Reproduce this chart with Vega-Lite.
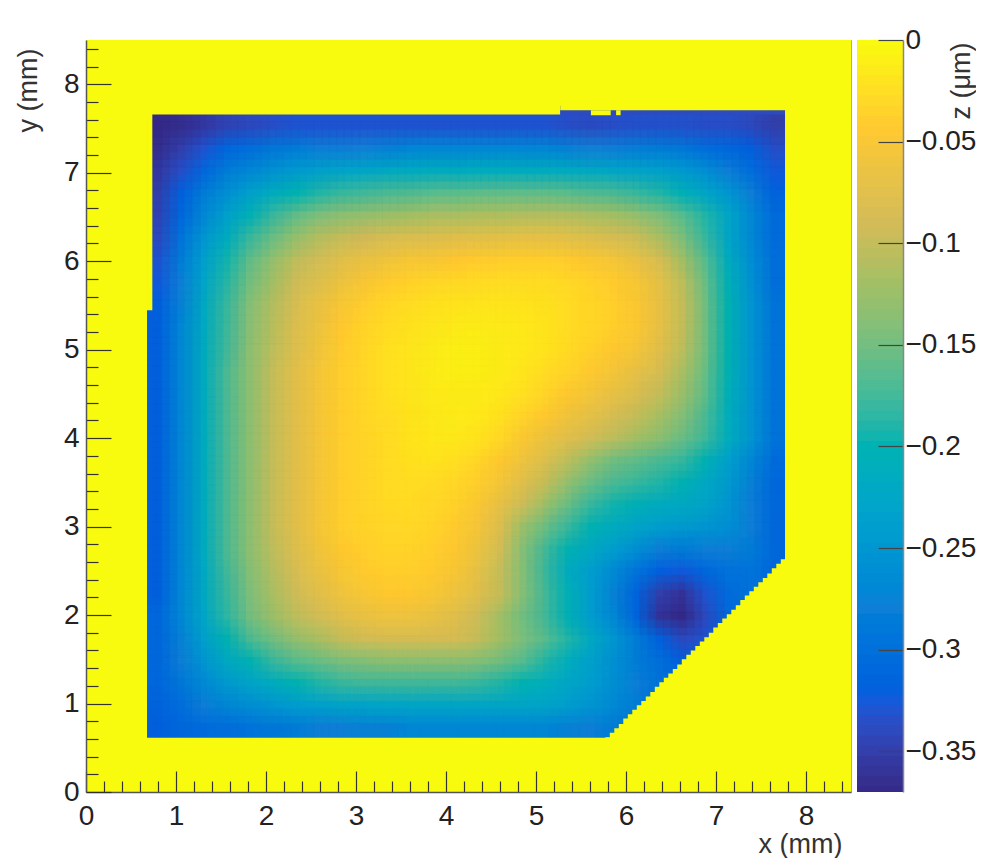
{"$schema":"https://vega.github.io/schema/vega-lite/v6.json","background":"white","padding":{"left":13,"top":26,"right":0,"bottom":0},"spacing":5,"config":{"font":"Liberation Sans","axis":{"labelFont":"Liberation Sans","titleFont":"Liberation Sans","labelColor":"#222","titleColor":"#333","titleFontWeight":"normal","labelFontSize":28,"titleFontSize":27,"grid":false}},"datasets":{"cells":[
{"x":0.8,"y":0.74,"z":-0.32},{"x":1.06,"y":0.74,"z":-0.31},{"x":1.31,"y":0.74,"z":-0.305},{"x":1.56,"y":0.74,"z":-0.3},{"x":1.82,"y":0.74,"z":-0.295},{"x":2.07,"y":0.74,"z":-0.29},{"x":2.32,"y":0.74,"z":-0.285},{"x":2.58,"y":0.74,"z":-0.28},{"x":2.83,"y":0.74,"z":-0.28},{"x":3.08,"y":0.74,"z":-0.275},{"x":3.34,"y":0.74,"z":-0.275},{"x":3.59,"y":0.74,"z":-0.27},{"x":3.84,"y":0.74,"z":-0.27},{"x":4.1,"y":0.74,"z":-0.27},{"x":4.35,"y":0.74,"z":-0.27},{"x":4.6,"y":0.74,"z":-0.27},{"x":4.86,"y":0.74,"z":-0.27},{"x":5.11,"y":0.74,"z":-0.27},{"x":5.36,"y":0.74,"z":-0.275},{"x":5.61,"y":0.74,"z":-0.28},{"x":5.87,"y":0.74,"z":-0.285},{"x":6.12,"y":0.74,"z":-0.295},
{"x":0.8,"y":0.99,"z":-0.315},{"x":1.06,"y":0.99,"z":-0.3},{"x":1.31,"y":0.99,"z":-0.28},{"x":1.56,"y":0.99,"z":-0.27},{"x":1.82,"y":0.99,"z":-0.26},{"x":2.07,"y":0.99,"z":-0.25},{"x":2.32,"y":0.99,"z":-0.24},{"x":2.58,"y":0.99,"z":-0.235},{"x":2.83,"y":0.99,"z":-0.23},{"x":3.08,"y":0.99,"z":-0.23},{"x":3.34,"y":0.99,"z":-0.225},{"x":3.59,"y":0.99,"z":-0.225},{"x":3.84,"y":0.99,"z":-0.225},{"x":4.1,"y":0.99,"z":-0.225},{"x":4.35,"y":0.99,"z":-0.225},{"x":4.6,"y":0.99,"z":-0.225},{"x":4.86,"y":0.99,"z":-0.225},{"x":5.11,"y":0.99,"z":-0.23},{"x":5.36,"y":0.99,"z":-0.24},{"x":5.61,"y":0.99,"z":-0.25},{"x":5.87,"y":0.99,"z":-0.265},{"x":6.12,"y":0.99,"z":-0.285},{"x":6.37,"y":0.99,"z":-0.3},
{"x":0.8,"y":1.24,"z":-0.31},{"x":1.06,"y":1.24,"z":-0.29},{"x":1.31,"y":1.24,"z":-0.265},{"x":1.56,"y":1.24,"z":-0.245},{"x":1.82,"y":1.24,"z":-0.23},{"x":2.07,"y":1.24,"z":-0.215},{"x":2.32,"y":1.24,"z":-0.2},{"x":2.58,"y":1.24,"z":-0.19},{"x":2.83,"y":1.24,"z":-0.18},{"x":3.08,"y":1.24,"z":-0.175},{"x":3.34,"y":1.24,"z":-0.175},{"x":3.59,"y":1.24,"z":-0.175},{"x":3.84,"y":1.24,"z":-0.175},{"x":4.1,"y":1.24,"z":-0.175},{"x":4.35,"y":1.24,"z":-0.18},{"x":4.6,"y":1.24,"z":-0.19},{"x":4.86,"y":1.24,"z":-0.2},{"x":5.11,"y":1.24,"z":-0.21},{"x":5.36,"y":1.24,"z":-0.225},{"x":5.61,"y":1.24,"z":-0.24},{"x":5.87,"y":1.24,"z":-0.26},{"x":6.12,"y":1.24,"z":-0.28},{"x":6.37,"y":1.24,"z":-0.295},{"x":6.63,"y":1.24,"z":-0.31},
{"x":0.8,"y":1.49,"z":-0.31},{"x":1.06,"y":1.49,"z":-0.28},{"x":1.31,"y":1.49,"z":-0.25},{"x":1.56,"y":1.49,"z":-0.22},{"x":1.82,"y":1.49,"z":-0.2},{"x":2.07,"y":1.49,"z":-0.18},{"x":2.32,"y":1.49,"z":-0.165},{"x":2.58,"y":1.49,"z":-0.155},{"x":2.83,"y":1.49,"z":-0.145},{"x":3.08,"y":1.49,"z":-0.14},{"x":3.34,"y":1.49,"z":-0.135},{"x":3.59,"y":1.49,"z":-0.135},{"x":3.84,"y":1.49,"z":-0.135},{"x":4.1,"y":1.49,"z":-0.135},{"x":4.35,"y":1.49,"z":-0.14},{"x":4.6,"y":1.49,"z":-0.15},{"x":4.86,"y":1.49,"z":-0.165},{"x":5.11,"y":1.49,"z":-0.19},{"x":5.36,"y":1.49,"z":-0.21},{"x":5.61,"y":1.49,"z":-0.235},{"x":5.87,"y":1.49,"z":-0.26},{"x":6.12,"y":1.49,"z":-0.285},{"x":6.37,"y":1.49,"z":-0.3},{"x":6.63,"y":1.49,"z":-0.32},{"x":6.88,"y":1.49,"z":-0.32},
{"x":0.8,"y":1.74,"z":-0.31},{"x":1.06,"y":1.74,"z":-0.275},{"x":1.31,"y":1.74,"z":-0.235},{"x":1.56,"y":1.74,"z":-0.2},{"x":1.82,"y":1.74,"z":-0.17},{"x":2.07,"y":1.74,"z":-0.15},{"x":2.32,"y":1.74,"z":-0.13},{"x":2.58,"y":1.74,"z":-0.115},{"x":2.83,"y":1.74,"z":-0.1},{"x":3.08,"y":1.74,"z":-0.09},{"x":3.34,"y":1.74,"z":-0.085},{"x":3.59,"y":1.74,"z":-0.085},{"x":3.84,"y":1.74,"z":-0.085},{"x":4.1,"y":1.74,"z":-0.085},{"x":4.35,"y":1.74,"z":-0.1},{"x":4.6,"y":1.74,"z":-0.12},{"x":4.86,"y":1.74,"z":-0.145},{"x":5.11,"y":1.74,"z":-0.165},{"x":5.36,"y":1.74,"z":-0.19},{"x":5.61,"y":1.74,"z":-0.22},{"x":5.87,"y":1.74,"z":-0.25},{"x":6.12,"y":1.74,"z":-0.285},{"x":6.37,"y":1.74,"z":-0.32},{"x":6.63,"y":1.74,"z":-0.34},{"x":6.88,"y":1.74,"z":-0.33},{"x":7.13,"y":1.74,"z":-0.31},
{"x":0.8,"y":1.99,"z":-0.31},{"x":1.06,"y":1.99,"z":-0.27},{"x":1.31,"y":1.99,"z":-0.225},{"x":1.56,"y":1.99,"z":-0.185},{"x":1.82,"y":1.99,"z":-0.15},{"x":2.07,"y":1.99,"z":-0.125},{"x":2.32,"y":1.99,"z":-0.105},{"x":2.58,"y":1.99,"z":-0.09},{"x":2.83,"y":1.99,"z":-0.075},{"x":3.08,"y":1.99,"z":-0.065},{"x":3.34,"y":1.99,"z":-0.06},{"x":3.59,"y":1.99,"z":-0.06},{"x":3.84,"y":1.99,"z":-0.065},{"x":4.1,"y":1.99,"z":-0.075},{"x":4.35,"y":1.99,"z":-0.095},{"x":4.6,"y":1.99,"z":-0.12},{"x":4.86,"y":1.99,"z":-0.15},{"x":5.11,"y":1.99,"z":-0.175},{"x":5.36,"y":1.99,"z":-0.205},{"x":5.61,"y":1.99,"z":-0.24},{"x":5.87,"y":1.99,"z":-0.27},{"x":6.12,"y":1.99,"z":-0.315},{"x":6.37,"y":1.99,"z":-0.36},{"x":6.63,"y":1.99,"z":-0.375},{"x":6.88,"y":1.99,"z":-0.34},{"x":7.13,"y":1.99,"z":-0.31},{"x":7.39,"y":1.99,"z":-0.3},
{"x":0.8,"y":2.25,"z":-0.32},{"x":1.06,"y":2.25,"z":-0.27},{"x":1.31,"y":2.25,"z":-0.22},{"x":1.56,"y":2.25,"z":-0.18},{"x":1.82,"y":2.25,"z":-0.145},{"x":2.07,"y":2.25,"z":-0.115},{"x":2.32,"y":2.25,"z":-0.095},{"x":2.58,"y":2.25,"z":-0.075},{"x":2.83,"y":2.25,"z":-0.06},{"x":3.08,"y":2.25,"z":-0.05},{"x":3.34,"y":2.25,"z":-0.045},{"x":3.59,"y":2.25,"z":-0.045},{"x":3.84,"y":2.25,"z":-0.05},{"x":4.1,"y":2.25,"z":-0.06},{"x":4.35,"y":2.25,"z":-0.075},{"x":4.6,"y":2.25,"z":-0.1},{"x":4.86,"y":2.25,"z":-0.14},{"x":5.11,"y":2.25,"z":-0.175},{"x":5.36,"y":2.25,"z":-0.205},{"x":5.61,"y":2.25,"z":-0.24},{"x":5.87,"y":2.25,"z":-0.275},{"x":6.12,"y":2.25,"z":-0.315},{"x":6.37,"y":2.25,"z":-0.35},{"x":6.63,"y":2.25,"z":-0.36},{"x":6.88,"y":2.25,"z":-0.33},{"x":7.13,"y":2.25,"z":-0.305},{"x":7.39,"y":2.25,"z":-0.295},{"x":7.64,"y":2.25,"z":-0.31},
{"x":0.8,"y":2.5,"z":-0.32},{"x":1.06,"y":2.5,"z":-0.27},{"x":1.31,"y":2.5,"z":-0.22},{"x":1.56,"y":2.5,"z":-0.175},{"x":1.82,"y":2.5,"z":-0.14},{"x":2.07,"y":2.5,"z":-0.11},{"x":2.32,"y":2.5,"z":-0.085},{"x":2.58,"y":2.5,"z":-0.065},{"x":2.83,"y":2.5,"z":-0.05},{"x":3.08,"y":2.5,"z":-0.042},{"x":3.34,"y":2.5,"z":-0.038},{"x":3.59,"y":2.5,"z":-0.038},{"x":3.84,"y":2.5,"z":-0.042},{"x":4.1,"y":2.5,"z":-0.052},{"x":4.35,"y":2.5,"z":-0.07},{"x":4.6,"y":2.5,"z":-0.1},{"x":4.86,"y":2.5,"z":-0.14},{"x":5.11,"y":2.5,"z":-0.18},{"x":5.36,"y":2.5,"z":-0.215},{"x":5.61,"y":2.5,"z":-0.24},{"x":5.87,"y":2.5,"z":-0.265},{"x":6.12,"y":2.5,"z":-0.295},{"x":6.37,"y":2.5,"z":-0.32},{"x":6.63,"y":2.5,"z":-0.325},{"x":6.88,"y":2.5,"z":-0.31},{"x":7.13,"y":2.5,"z":-0.295},{"x":7.39,"y":2.5,"z":-0.295},{"x":7.64,"y":2.5,"z":-0.31},
{"x":0.8,"y":2.75,"z":-0.32},{"x":1.06,"y":2.75,"z":-0.27},{"x":1.31,"y":2.75,"z":-0.215},{"x":1.56,"y":2.75,"z":-0.17},{"x":1.82,"y":2.75,"z":-0.135},{"x":2.07,"y":2.75,"z":-0.105},{"x":2.32,"y":2.75,"z":-0.08},{"x":2.58,"y":2.75,"z":-0.058},{"x":2.83,"y":2.75,"z":-0.045},{"x":3.08,"y":2.75,"z":-0.038},{"x":3.34,"y":2.75,"z":-0.034},{"x":3.59,"y":2.75,"z":-0.034},{"x":3.84,"y":2.75,"z":-0.038},{"x":4.1,"y":2.75,"z":-0.046},{"x":4.35,"y":2.75,"z":-0.062},{"x":4.6,"y":2.75,"z":-0.09},{"x":4.86,"y":2.75,"z":-0.14},{"x":5.11,"y":2.75,"z":-0.175},{"x":5.36,"y":2.75,"z":-0.2},{"x":5.61,"y":2.75,"z":-0.22},{"x":5.87,"y":2.75,"z":-0.24},{"x":6.12,"y":2.75,"z":-0.26},{"x":6.37,"y":2.75,"z":-0.28},{"x":6.63,"y":2.75,"z":-0.285},{"x":6.88,"y":2.75,"z":-0.28},{"x":7.13,"y":2.75,"z":-0.28},{"x":7.39,"y":2.75,"z":-0.285},{"x":7.64,"y":2.75,"z":-0.31},
{"x":0.8,"y":3.0,"z":-0.32},{"x":1.06,"y":3.0,"z":-0.27},{"x":1.31,"y":3.0,"z":-0.215},{"x":1.56,"y":3.0,"z":-0.17},{"x":1.82,"y":3.0,"z":-0.135},{"x":2.07,"y":3.0,"z":-0.1},{"x":2.32,"y":3.0,"z":-0.075},{"x":2.58,"y":3.0,"z":-0.055},{"x":2.83,"y":3.0,"z":-0.04},{"x":3.08,"y":3.0,"z":-0.035},{"x":3.34,"y":3.0,"z":-0.03},{"x":3.59,"y":3.0,"z":-0.03},{"x":3.84,"y":3.0,"z":-0.034},{"x":4.1,"y":3.0,"z":-0.042},{"x":4.35,"y":3.0,"z":-0.055},{"x":4.6,"y":3.0,"z":-0.08},{"x":4.86,"y":3.0,"z":-0.125},{"x":5.11,"y":3.0,"z":-0.155},{"x":5.36,"y":3.0,"z":-0.18},{"x":5.61,"y":3.0,"z":-0.2},{"x":5.87,"y":3.0,"z":-0.215},{"x":6.12,"y":3.0,"z":-0.23},{"x":6.37,"y":3.0,"z":-0.24},{"x":6.63,"y":3.0,"z":-0.245},{"x":6.88,"y":3.0,"z":-0.25},{"x":7.13,"y":3.0,"z":-0.26},{"x":7.39,"y":3.0,"z":-0.28},{"x":7.64,"y":3.0,"z":-0.31},
{"x":0.8,"y":3.26,"z":-0.32},{"x":1.06,"y":3.26,"z":-0.27},{"x":1.31,"y":3.26,"z":-0.215},{"x":1.56,"y":3.26,"z":-0.17},{"x":1.82,"y":3.26,"z":-0.135},{"x":2.07,"y":3.26,"z":-0.1},{"x":2.32,"y":3.26,"z":-0.075},{"x":2.58,"y":3.26,"z":-0.055},{"x":2.83,"y":3.26,"z":-0.04},{"x":3.08,"y":3.26,"z":-0.033},{"x":3.34,"y":3.26,"z":-0.028},{"x":3.59,"y":3.26,"z":-0.027},{"x":3.84,"y":3.26,"z":-0.03},{"x":4.1,"y":3.26,"z":-0.036},{"x":4.35,"y":3.26,"z":-0.048},{"x":4.6,"y":3.26,"z":-0.068},{"x":4.86,"y":3.26,"z":-0.095},{"x":5.11,"y":3.26,"z":-0.125},{"x":5.36,"y":3.26,"z":-0.155},{"x":5.61,"y":3.26,"z":-0.18},{"x":5.87,"y":3.26,"z":-0.195},{"x":6.12,"y":3.26,"z":-0.205},{"x":6.37,"y":3.26,"z":-0.215},{"x":6.63,"y":3.26,"z":-0.22},{"x":6.88,"y":3.26,"z":-0.23},{"x":7.13,"y":3.26,"z":-0.25},{"x":7.39,"y":3.26,"z":-0.28},{"x":7.64,"y":3.26,"z":-0.31},
{"x":0.8,"y":3.51,"z":-0.32},{"x":1.06,"y":3.51,"z":-0.27},{"x":1.31,"y":3.51,"z":-0.215},{"x":1.56,"y":3.51,"z":-0.17},{"x":1.82,"y":3.51,"z":-0.135},{"x":2.07,"y":3.51,"z":-0.1},{"x":2.32,"y":3.51,"z":-0.075},{"x":2.58,"y":3.51,"z":-0.055},{"x":2.83,"y":3.51,"z":-0.04},{"x":3.08,"y":3.51,"z":-0.033},{"x":3.34,"y":3.51,"z":-0.027},{"x":3.59,"y":3.51,"z":-0.025},{"x":3.84,"y":3.51,"z":-0.027},{"x":4.1,"y":3.51,"z":-0.03},{"x":4.35,"y":3.51,"z":-0.04},{"x":4.6,"y":3.51,"z":-0.055},{"x":4.86,"y":3.51,"z":-0.075},{"x":5.11,"y":3.51,"z":-0.1},{"x":5.36,"y":3.51,"z":-0.13},{"x":5.61,"y":3.51,"z":-0.155},{"x":5.87,"y":3.51,"z":-0.17},{"x":6.12,"y":3.51,"z":-0.18},{"x":6.37,"y":3.51,"z":-0.19},{"x":6.63,"y":3.51,"z":-0.2},{"x":6.88,"y":3.51,"z":-0.22},{"x":7.13,"y":3.51,"z":-0.245},{"x":7.39,"y":3.51,"z":-0.275},{"x":7.64,"y":3.51,"z":-0.31},
{"x":0.8,"y":3.76,"z":-0.32},{"x":1.06,"y":3.76,"z":-0.27},{"x":1.31,"y":3.76,"z":-0.215},{"x":1.56,"y":3.76,"z":-0.17},{"x":1.82,"y":3.76,"z":-0.135},{"x":2.07,"y":3.76,"z":-0.1},{"x":2.32,"y":3.76,"z":-0.075},{"x":2.58,"y":3.76,"z":-0.055},{"x":2.83,"y":3.76,"z":-0.04},{"x":3.08,"y":3.76,"z":-0.033},{"x":3.34,"y":3.76,"z":-0.027},{"x":3.59,"y":3.76,"z":-0.022},{"x":3.84,"y":3.76,"z":-0.02},{"x":4.1,"y":3.76,"z":-0.024},{"x":4.35,"y":3.76,"z":-0.032},{"x":4.6,"y":3.76,"z":-0.045},{"x":4.86,"y":3.76,"z":-0.06},{"x":5.11,"y":3.76,"z":-0.08},{"x":5.36,"y":3.76,"z":-0.105},{"x":5.61,"y":3.76,"z":-0.13},{"x":5.87,"y":3.76,"z":-0.15},{"x":6.12,"y":3.76,"z":-0.16},{"x":6.37,"y":3.76,"z":-0.17},{"x":6.63,"y":3.76,"z":-0.18},{"x":6.88,"y":3.76,"z":-0.2},{"x":7.13,"y":3.76,"z":-0.235},{"x":7.39,"y":3.76,"z":-0.27},{"x":7.64,"y":3.76,"z":-0.305},
{"x":0.8,"y":4.01,"z":-0.32},{"x":1.06,"y":4.01,"z":-0.27},{"x":1.31,"y":4.01,"z":-0.215},{"x":1.56,"y":4.01,"z":-0.17},{"x":1.82,"y":4.01,"z":-0.135},{"x":2.07,"y":4.01,"z":-0.1},{"x":2.32,"y":4.01,"z":-0.075},{"x":2.58,"y":4.01,"z":-0.055},{"x":2.83,"y":4.01,"z":-0.04},{"x":3.08,"y":4.01,"z":-0.033},{"x":3.34,"y":4.01,"z":-0.027},{"x":3.59,"y":4.01,"z":-0.02},{"x":3.84,"y":4.01,"z":-0.016},{"x":4.1,"y":4.01,"z":-0.015},{"x":4.35,"y":4.01,"z":-0.02},{"x":4.6,"y":4.01,"z":-0.03},{"x":4.86,"y":4.01,"z":-0.048},{"x":5.11,"y":4.01,"z":-0.062},{"x":5.36,"y":4.01,"z":-0.075},{"x":5.61,"y":4.01,"z":-0.09},{"x":5.87,"y":4.01,"z":-0.105},{"x":6.12,"y":4.01,"z":-0.12},{"x":6.37,"y":4.01,"z":-0.135},{"x":6.63,"y":4.01,"z":-0.155},{"x":6.88,"y":4.01,"z":-0.175},{"x":7.13,"y":4.01,"z":-0.21},{"x":7.39,"y":4.01,"z":-0.25},{"x":7.64,"y":4.01,"z":-0.295},
{"x":0.8,"y":4.26,"z":-0.32},{"x":1.06,"y":4.26,"z":-0.27},{"x":1.31,"y":4.26,"z":-0.215},{"x":1.56,"y":4.26,"z":-0.17},{"x":1.82,"y":4.26,"z":-0.135},{"x":2.07,"y":4.26,"z":-0.1},{"x":2.32,"y":4.26,"z":-0.075},{"x":2.58,"y":4.26,"z":-0.055},{"x":2.83,"y":4.26,"z":-0.04},{"x":3.08,"y":4.26,"z":-0.032},{"x":3.34,"y":4.26,"z":-0.026},{"x":3.59,"y":4.26,"z":-0.02},{"x":3.84,"y":4.26,"z":-0.015},{"x":4.1,"y":4.26,"z":-0.013},{"x":4.35,"y":4.26,"z":-0.016},{"x":4.6,"y":4.26,"z":-0.022},{"x":4.86,"y":4.26,"z":-0.034},{"x":5.11,"y":4.26,"z":-0.045},{"x":5.36,"y":4.26,"z":-0.058},{"x":5.61,"y":4.26,"z":-0.072},{"x":5.87,"y":4.26,"z":-0.085},{"x":6.12,"y":4.26,"z":-0.1},{"x":6.37,"y":4.26,"z":-0.118},{"x":6.63,"y":4.26,"z":-0.14},{"x":6.88,"y":4.26,"z":-0.17},{"x":7.13,"y":4.26,"z":-0.21},{"x":7.39,"y":4.26,"z":-0.25},{"x":7.64,"y":4.26,"z":-0.295},
{"x":0.8,"y":4.51,"z":-0.32},{"x":1.06,"y":4.51,"z":-0.27},{"x":1.31,"y":4.51,"z":-0.215},{"x":1.56,"y":4.51,"z":-0.17},{"x":1.82,"y":4.51,"z":-0.135},{"x":2.07,"y":4.51,"z":-0.1},{"x":2.32,"y":4.51,"z":-0.075},{"x":2.58,"y":4.51,"z":-0.055},{"x":2.83,"y":4.51,"z":-0.04},{"x":3.08,"y":4.51,"z":-0.032},{"x":3.34,"y":4.51,"z":-0.024},{"x":3.59,"y":4.51,"z":-0.018},{"x":3.84,"y":4.51,"z":-0.014},{"x":4.1,"y":4.51,"z":-0.012},{"x":4.35,"y":4.51,"z":-0.012},{"x":4.6,"y":4.51,"z":-0.016},{"x":4.86,"y":4.51,"z":-0.024},{"x":5.11,"y":4.51,"z":-0.034},{"x":5.36,"y":4.51,"z":-0.045},{"x":5.61,"y":4.51,"z":-0.056},{"x":5.87,"y":4.51,"z":-0.068},{"x":6.12,"y":4.51,"z":-0.082},{"x":6.37,"y":4.51,"z":-0.1},{"x":6.63,"y":4.51,"z":-0.125},{"x":6.88,"y":4.51,"z":-0.16},{"x":7.13,"y":4.51,"z":-0.205},{"x":7.39,"y":4.51,"z":-0.25},{"x":7.64,"y":4.51,"z":-0.295},
{"x":0.8,"y":4.77,"z":-0.32},{"x":1.06,"y":4.77,"z":-0.27},{"x":1.31,"y":4.77,"z":-0.215},{"x":1.56,"y":4.77,"z":-0.17},{"x":1.82,"y":4.77,"z":-0.135},{"x":2.07,"y":4.77,"z":-0.1},{"x":2.32,"y":4.77,"z":-0.075},{"x":2.58,"y":4.77,"z":-0.055},{"x":2.83,"y":4.77,"z":-0.04},{"x":3.08,"y":4.77,"z":-0.031},{"x":3.34,"y":4.77,"z":-0.024},{"x":3.59,"y":4.77,"z":-0.018},{"x":3.84,"y":4.77,"z":-0.012},{"x":4.1,"y":4.77,"z":-0.01},{"x":4.35,"y":4.77,"z":-0.01},{"x":4.6,"y":4.77,"z":-0.012},{"x":4.86,"y":4.77,"z":-0.018},{"x":5.11,"y":4.77,"z":-0.026},{"x":5.36,"y":4.77,"z":-0.034},{"x":5.61,"y":4.77,"z":-0.044},{"x":5.87,"y":4.77,"z":-0.055},{"x":6.12,"y":4.77,"z":-0.068},{"x":6.37,"y":4.77,"z":-0.085},{"x":6.63,"y":4.77,"z":-0.115},{"x":6.88,"y":4.77,"z":-0.155},{"x":7.13,"y":4.77,"z":-0.2},{"x":7.39,"y":4.77,"z":-0.25},{"x":7.64,"y":4.77,"z":-0.295},
{"x":0.8,"y":5.02,"z":-0.32},{"x":1.06,"y":5.02,"z":-0.27},{"x":1.31,"y":5.02,"z":-0.215},{"x":1.56,"y":5.02,"z":-0.175},{"x":1.82,"y":5.02,"z":-0.135},{"x":2.07,"y":5.02,"z":-0.105},{"x":2.32,"y":5.02,"z":-0.078},{"x":2.58,"y":5.02,"z":-0.058},{"x":2.83,"y":5.02,"z":-0.042},{"x":3.08,"y":5.02,"z":-0.032},{"x":3.34,"y":5.02,"z":-0.024},{"x":3.59,"y":5.02,"z":-0.018},{"x":3.84,"y":5.02,"z":-0.014},{"x":4.1,"y":5.02,"z":-0.01},{"x":4.35,"y":5.02,"z":-0.01},{"x":4.6,"y":5.02,"z":-0.012},{"x":4.86,"y":5.02,"z":-0.016},{"x":5.11,"y":5.02,"z":-0.02},{"x":5.36,"y":5.02,"z":-0.028},{"x":5.61,"y":5.02,"z":-0.036},{"x":5.87,"y":5.02,"z":-0.045},{"x":6.12,"y":5.02,"z":-0.055},{"x":6.37,"y":5.02,"z":-0.075},{"x":6.63,"y":5.02,"z":-0.105},{"x":6.88,"y":5.02,"z":-0.15},{"x":7.13,"y":5.02,"z":-0.2},{"x":7.39,"y":5.02,"z":-0.25},{"x":7.64,"y":5.02,"z":-0.295},
{"x":0.8,"y":5.27,"z":-0.32},{"x":1.06,"y":5.27,"z":-0.272},{"x":1.31,"y":5.27,"z":-0.218},{"x":1.56,"y":5.27,"z":-0.178},{"x":1.82,"y":5.27,"z":-0.138},{"x":2.07,"y":5.27,"z":-0.108},{"x":2.32,"y":5.27,"z":-0.082},{"x":2.58,"y":5.27,"z":-0.062},{"x":2.83,"y":5.27,"z":-0.046},{"x":3.08,"y":5.27,"z":-0.035},{"x":3.34,"y":5.27,"z":-0.027},{"x":3.59,"y":5.27,"z":-0.021},{"x":3.84,"y":5.27,"z":-0.017},{"x":4.1,"y":5.27,"z":-0.014},{"x":4.35,"y":5.27,"z":-0.012},{"x":4.6,"y":5.27,"z":-0.014},{"x":4.86,"y":5.27,"z":-0.016},{"x":5.11,"y":5.27,"z":-0.02},{"x":5.36,"y":5.27,"z":-0.026},{"x":5.61,"y":5.27,"z":-0.032},{"x":5.87,"y":5.27,"z":-0.038},{"x":6.12,"y":5.27,"z":-0.048},{"x":6.37,"y":5.27,"z":-0.068},{"x":6.63,"y":5.27,"z":-0.1},{"x":6.88,"y":5.27,"z":-0.15},{"x":7.13,"y":5.27,"z":-0.2},{"x":7.39,"y":5.27,"z":-0.25},{"x":7.64,"y":5.27,"z":-0.295},
{"x":0.8,"y":5.52,"z":-0.32},{"x":1.06,"y":5.52,"z":-0.275},{"x":1.31,"y":5.52,"z":-0.22},{"x":1.56,"y":5.52,"z":-0.18},{"x":1.82,"y":5.52,"z":-0.14},{"x":2.07,"y":5.52,"z":-0.11},{"x":2.32,"y":5.52,"z":-0.085},{"x":2.58,"y":5.52,"z":-0.065},{"x":2.83,"y":5.52,"z":-0.05},{"x":3.08,"y":5.52,"z":-0.04},{"x":3.34,"y":5.52,"z":-0.032},{"x":3.59,"y":5.52,"z":-0.026},{"x":3.84,"y":5.52,"z":-0.022},{"x":4.1,"y":5.52,"z":-0.02},{"x":4.35,"y":5.52,"z":-0.018},{"x":4.6,"y":5.52,"z":-0.018},{"x":4.86,"y":5.52,"z":-0.02},{"x":5.11,"y":5.52,"z":-0.022},{"x":5.36,"y":5.52,"z":-0.026},{"x":5.61,"y":5.52,"z":-0.032},{"x":5.87,"y":5.52,"z":-0.038},{"x":6.12,"y":5.52,"z":-0.048},{"x":6.37,"y":5.52,"z":-0.068},{"x":6.63,"y":5.52,"z":-0.1},{"x":6.88,"y":5.52,"z":-0.15},{"x":7.13,"y":5.52,"z":-0.2},{"x":7.39,"y":5.52,"z":-0.25},{"x":7.64,"y":5.52,"z":-0.295},
{"x":0.8,"y":5.77,"z":-0.325},{"x":1.06,"y":5.77,"z":-0.28},{"x":1.31,"y":5.77,"z":-0.228},{"x":1.56,"y":5.77,"z":-0.188},{"x":1.82,"y":5.77,"z":-0.15},{"x":2.07,"y":5.77,"z":-0.12},{"x":2.32,"y":5.77,"z":-0.095},{"x":2.58,"y":5.77,"z":-0.078},{"x":2.83,"y":5.77,"z":-0.062},{"x":3.08,"y":5.77,"z":-0.05},{"x":3.34,"y":5.77,"z":-0.042},{"x":3.59,"y":5.77,"z":-0.036},{"x":3.84,"y":5.77,"z":-0.032},{"x":4.1,"y":5.77,"z":-0.03},{"x":4.35,"y":5.77,"z":-0.028},{"x":4.6,"y":5.77,"z":-0.026},{"x":4.86,"y":5.77,"z":-0.026},{"x":5.11,"y":5.77,"z":-0.026},{"x":5.36,"y":5.77,"z":-0.03},{"x":5.61,"y":5.77,"z":-0.036},{"x":5.87,"y":5.77,"z":-0.042},{"x":6.12,"y":5.77,"z":-0.052},{"x":6.37,"y":5.77,"z":-0.072},{"x":6.63,"y":5.77,"z":-0.105},{"x":6.88,"y":5.77,"z":-0.155},{"x":7.13,"y":5.77,"z":-0.205},{"x":7.39,"y":5.77,"z":-0.255},{"x":7.64,"y":5.77,"z":-0.3},
{"x":0.8,"y":6.02,"z":-0.33},{"x":1.06,"y":6.02,"z":-0.285},{"x":1.31,"y":6.02,"z":-0.235},{"x":1.56,"y":6.02,"z":-0.195},{"x":1.82,"y":6.02,"z":-0.16},{"x":2.07,"y":6.02,"z":-0.13},{"x":2.32,"y":6.02,"z":-0.105},{"x":2.58,"y":6.02,"z":-0.09},{"x":2.83,"y":6.02,"z":-0.075},{"x":3.08,"y":6.02,"z":-0.065},{"x":3.34,"y":6.02,"z":-0.058},{"x":3.59,"y":6.02,"z":-0.052},{"x":3.84,"y":6.02,"z":-0.05},{"x":4.1,"y":6.02,"z":-0.046},{"x":4.35,"y":6.02,"z":-0.042},{"x":4.6,"y":6.02,"z":-0.04},{"x":4.86,"y":6.02,"z":-0.038},{"x":5.11,"y":6.02,"z":-0.038},{"x":5.36,"y":6.02,"z":-0.042},{"x":5.61,"y":6.02,"z":-0.048},{"x":5.87,"y":6.02,"z":-0.055},{"x":6.12,"y":6.02,"z":-0.066},{"x":6.37,"y":6.02,"z":-0.085},{"x":6.63,"y":6.02,"z":-0.12},{"x":6.88,"y":6.02,"z":-0.165},{"x":7.13,"y":6.02,"z":-0.215},{"x":7.39,"y":6.02,"z":-0.26},{"x":7.64,"y":6.02,"z":-0.3},
{"x":0.8,"y":6.27,"z":-0.34},{"x":1.06,"y":6.27,"z":-0.295},{"x":1.31,"y":6.27,"z":-0.25},{"x":1.56,"y":6.27,"z":-0.215},{"x":1.82,"y":6.27,"z":-0.18},{"x":2.07,"y":6.27,"z":-0.155},{"x":2.32,"y":6.27,"z":-0.13},{"x":2.58,"y":6.27,"z":-0.11},{"x":2.83,"y":6.27,"z":-0.1},{"x":3.08,"y":6.27,"z":-0.092},{"x":3.34,"y":6.27,"z":-0.085},{"x":3.59,"y":6.27,"z":-0.082},{"x":3.84,"y":6.27,"z":-0.08},{"x":4.1,"y":6.27,"z":-0.076},{"x":4.35,"y":6.27,"z":-0.074},{"x":4.6,"y":6.27,"z":-0.072},{"x":4.86,"y":6.27,"z":-0.07},{"x":5.11,"y":6.27,"z":-0.07},{"x":5.36,"y":6.27,"z":-0.074},{"x":5.61,"y":6.27,"z":-0.08},{"x":5.87,"y":6.27,"z":-0.086},{"x":6.12,"y":6.27,"z":-0.096},{"x":6.37,"y":6.27,"z":-0.115},{"x":6.63,"y":6.27,"z":-0.145},{"x":6.88,"y":6.27,"z":-0.18},{"x":7.13,"y":6.27,"z":-0.225},{"x":7.39,"y":6.27,"z":-0.265},{"x":7.64,"y":6.27,"z":-0.305},
{"x":0.8,"y":6.53,"z":-0.345},{"x":1.06,"y":6.53,"z":-0.31},{"x":1.31,"y":6.53,"z":-0.27},{"x":1.56,"y":6.53,"z":-0.235},{"x":1.82,"y":6.53,"z":-0.205},{"x":2.07,"y":6.53,"z":-0.18},{"x":2.32,"y":6.53,"z":-0.16},{"x":2.58,"y":6.53,"z":-0.145},{"x":2.83,"y":6.53,"z":-0.135},{"x":3.08,"y":6.53,"z":-0.13},{"x":3.34,"y":6.53,"z":-0.125},{"x":3.59,"y":6.53,"z":-0.12},{"x":3.84,"y":6.53,"z":-0.115},{"x":4.1,"y":6.53,"z":-0.115},{"x":4.35,"y":6.53,"z":-0.113},{"x":4.6,"y":6.53,"z":-0.112},{"x":4.86,"y":6.53,"z":-0.11},{"x":5.11,"y":6.53,"z":-0.11},{"x":5.36,"y":6.53,"z":-0.11},{"x":5.61,"y":6.53,"z":-0.115},{"x":5.87,"y":6.53,"z":-0.12},{"x":6.12,"y":6.53,"z":-0.13},{"x":6.37,"y":6.53,"z":-0.145},{"x":6.63,"y":6.53,"z":-0.165},{"x":6.88,"y":6.53,"z":-0.19},{"x":7.13,"y":6.53,"z":-0.225},{"x":7.39,"y":6.53,"z":-0.265},{"x":7.64,"y":6.53,"z":-0.305},
{"x":0.8,"y":6.78,"z":-0.35},{"x":1.06,"y":6.78,"z":-0.32},{"x":1.31,"y":6.78,"z":-0.285},{"x":1.56,"y":6.78,"z":-0.26},{"x":1.82,"y":6.78,"z":-0.235},{"x":2.07,"y":6.78,"z":-0.215},{"x":2.32,"y":6.78,"z":-0.2},{"x":2.58,"y":6.78,"z":-0.19},{"x":2.83,"y":6.78,"z":-0.18},{"x":3.08,"y":6.78,"z":-0.175},{"x":3.34,"y":6.78,"z":-0.17},{"x":3.59,"y":6.78,"z":-0.168},{"x":3.84,"y":6.78,"z":-0.165},{"x":4.1,"y":6.78,"z":-0.163},{"x":4.35,"y":6.78,"z":-0.16},{"x":4.6,"y":6.78,"z":-0.16},{"x":4.86,"y":6.78,"z":-0.16},{"x":5.11,"y":6.78,"z":-0.16},{"x":5.36,"y":6.78,"z":-0.163},{"x":5.61,"y":6.78,"z":-0.168},{"x":5.87,"y":6.78,"z":-0.172},{"x":6.12,"y":6.78,"z":-0.18},{"x":6.37,"y":6.78,"z":-0.19},{"x":6.63,"y":6.78,"z":-0.205},{"x":6.88,"y":6.78,"z":-0.225},{"x":7.13,"y":6.78,"z":-0.25},{"x":7.39,"y":6.78,"z":-0.28},{"x":7.64,"y":6.78,"z":-0.315},
{"x":0.8,"y":7.03,"z":-0.355},{"x":1.06,"y":7.03,"z":-0.335},{"x":1.31,"y":7.03,"z":-0.31},{"x":1.56,"y":7.03,"z":-0.285},{"x":1.82,"y":7.03,"z":-0.27},{"x":2.07,"y":7.03,"z":-0.255},{"x":2.32,"y":7.03,"z":-0.245},{"x":2.58,"y":7.03,"z":-0.235},{"x":2.83,"y":7.03,"z":-0.23},{"x":3.08,"y":7.03,"z":-0.225},{"x":3.34,"y":7.03,"z":-0.22},{"x":3.59,"y":7.03,"z":-0.218},{"x":3.84,"y":7.03,"z":-0.215},{"x":4.1,"y":7.03,"z":-0.215},{"x":4.35,"y":7.03,"z":-0.213},{"x":4.6,"y":7.03,"z":-0.213},{"x":4.86,"y":7.03,"z":-0.215},{"x":5.11,"y":7.03,"z":-0.215},{"x":5.36,"y":7.03,"z":-0.218},{"x":5.61,"y":7.03,"z":-0.22},{"x":5.87,"y":7.03,"z":-0.225},{"x":6.12,"y":7.03,"z":-0.23},{"x":6.37,"y":7.03,"z":-0.235},{"x":6.63,"y":7.03,"z":-0.245},{"x":6.88,"y":7.03,"z":-0.26},{"x":7.13,"y":7.03,"z":-0.28},{"x":7.39,"y":7.03,"z":-0.3},{"x":7.64,"y":7.03,"z":-0.325},
{"x":0.8,"y":7.28,"z":-0.365},{"x":1.06,"y":7.28,"z":-0.35},{"x":1.31,"y":7.28,"z":-0.33},{"x":1.56,"y":7.28,"z":-0.31},{"x":1.82,"y":7.28,"z":-0.3},{"x":2.07,"y":7.28,"z":-0.29},{"x":2.32,"y":7.28,"z":-0.285},{"x":2.58,"y":7.28,"z":-0.28},{"x":2.83,"y":7.28,"z":-0.28},{"x":3.08,"y":7.28,"z":-0.278},{"x":3.34,"y":7.28,"z":-0.275},{"x":3.59,"y":7.28,"z":-0.272},{"x":3.84,"y":7.28,"z":-0.27},{"x":4.1,"y":7.28,"z":-0.27},{"x":4.35,"y":7.28,"z":-0.27},{"x":4.6,"y":7.28,"z":-0.27},{"x":4.86,"y":7.28,"z":-0.272},{"x":5.11,"y":7.28,"z":-0.272},{"x":5.36,"y":7.28,"z":-0.275},{"x":5.61,"y":7.28,"z":-0.278},{"x":5.87,"y":7.28,"z":-0.28},{"x":6.12,"y":7.28,"z":-0.282},{"x":6.37,"y":7.28,"z":-0.285},{"x":6.63,"y":7.28,"z":-0.29},{"x":6.88,"y":7.28,"z":-0.3},{"x":7.13,"y":7.28,"z":-0.31},{"x":7.39,"y":7.28,"z":-0.32},{"x":7.64,"y":7.28,"z":-0.335},
{"x":0.8,"y":7.53,"z":-0.37},{"x":1.06,"y":7.53,"z":-0.365},{"x":1.31,"y":7.53,"z":-0.355},{"x":1.56,"y":7.53,"z":-0.345},{"x":1.82,"y":7.53,"z":-0.34},{"x":2.07,"y":7.53,"z":-0.335},{"x":2.32,"y":7.53,"z":-0.33},{"x":2.58,"y":7.53,"z":-0.33},{"x":2.83,"y":7.53,"z":-0.33},{"x":3.08,"y":7.53,"z":-0.33},{"x":3.34,"y":7.53,"z":-0.33},{"x":3.59,"y":7.53,"z":-0.33},{"x":3.84,"y":7.53,"z":-0.33},{"x":4.1,"y":7.53,"z":-0.33},{"x":4.35,"y":7.53,"z":-0.33},{"x":4.6,"y":7.53,"z":-0.33},{"x":4.86,"y":7.53,"z":-0.33},{"x":5.11,"y":7.53,"z":-0.33},{"x":5.36,"y":7.53,"z":-0.335},{"x":5.61,"y":7.53,"z":-0.338},{"x":5.87,"y":7.53,"z":-0.335},{"x":6.12,"y":7.53,"z":-0.333},{"x":6.37,"y":7.53,"z":-0.333},{"x":6.63,"y":7.53,"z":-0.333},{"x":6.88,"y":7.53,"z":-0.335},{"x":7.13,"y":7.53,"z":-0.335},{"x":7.39,"y":7.53,"z":-0.34},{"x":7.64,"y":7.53,"z":-0.35}
]},"hconcat":[{"width":765,"height":752,"view":{"stroke":"#aaa","strokeWidth":1},"encoding":{"color":{"field":"z","type":"quantitative","legend":null,"scale":{"domain":[-0.37,-0.324,-0.2775,-0.231,-0.185,-0.139,-0.0925,-0.046,0],"range":["#352a87","#0f5cdd","#1481d6","#06a4ca","#2eb7a4","#87bf77","#d1bb59","#fec832","#f9fb0e"],"clamp":true}}},"layer":[{"data":{"values":[{"x":0,"x2":8.5,"y":0,"y2":8.5,"z":0}]},"mark":{"type":"rect"},"encoding":{"x":{"field":"x","type":"quantitative","scale":{"domain":[0,8.5],"nice":false},"axis":{"zindex":1,"tickCount":50,"values":[0,0.2,0.4,0.6,0.8,1,1.2,1.4,1.6,1.8,2,2.2,2.4,2.6,2.8,3,3.2,3.4,3.6,3.8,4,4.2,4.4,4.6,4.8,5,5.2,5.4,5.6,5.8,6,6.2,6.4,6.6,6.8,7,7.2,7.4,7.6,7.8,8,8.2,8.4],"title":"x (mm)","titleAnchor":"end","titleBaseline":"alphabetic","titleX":756,"titleY":60,"labelExpr":"abs(datum.value-round(datum.value))<0.001 ? format(datum.value,'d') : ''","tickColor":"#333","tickWidth":1.2,"tickSize":{"condition":{"test":"abs(datum.value-round(datum.value))<0.001","value":-21},"value":-11},"domainColor":"#555","domainWidth":1.5,"labelPadding":31,"labelOverlap":false,"labelFlush":false}},"x2":{"field":"x2"},"y":{"field":"y","type":"quantitative","scale":{"domain":[0,8.5],"nice":false},"axis":{"zindex":1,"tickCount":50,"values":[0,0.2,0.4,0.6,0.8,1,1.2,1.4,1.6,1.8,2,2.2,2.4,2.6,2.8,3,3.2,3.4,3.6,3.8,4,4.2,4.4,4.6,4.8,5,5.2,5.4,5.6,5.8,6,6.2,6.4,6.6,6.8,7,7.2,7.4,7.6,7.8,8,8.2,8.4],"title":"y (mm)","titleAnchor":"end","titleBaseline":"alphabetic","titleX":-50,"titleY":8,"labelExpr":"abs(datum.value-round(datum.value))<0.001 ? format(datum.value,'d') : ''","tickColor":"#333","tickWidth":1.2,"tickSize":{"condition":{"test":"abs(datum.value-round(datum.value))<0.001","value":-25},"value":-12},"domainColor":"#555","domainWidth":1.5,"labelPadding":32,"labelOverlap":false,"labelFlush":false}},"y2":{"field":"y2"}}},
{"data":{"name":"cells"},"mark":{"type":"rect","width":40,"height":40},"encoding":{"x":{"field":"x","type":"quantitative"},"y":{"field":"y","type":"quantitative"}}},
{"data":{"name":"cells"},"mark":{"type":"rect","width":24,"height":23.5,"xOffset":-7.6,"yOffset":-7.4,"opacity":1},"encoding":{"x":{"field":"x","type":"quantitative"},"y":{"field":"y","type":"quantitative"}}},
{"data":{"name":"cells"},"mark":{"type":"rect","width":24,"height":23.5,"xOffset":0,"yOffset":-7.4,"opacity":0.5},"encoding":{"x":{"field":"x","type":"quantitative"},"y":{"field":"y","type":"quantitative"}}},
{"data":{"name":"cells"},"mark":{"type":"rect","width":24,"height":23.5,"xOffset":7.6,"yOffset":-7.4,"opacity":0.333},"encoding":{"x":{"field":"x","type":"quantitative"},"y":{"field":"y","type":"quantitative"}}},
{"data":{"name":"cells"},"mark":{"type":"rect","width":24,"height":23.5,"xOffset":-7.6,"yOffset":0,"opacity":0.25},"encoding":{"x":{"field":"x","type":"quantitative"},"y":{"field":"y","type":"quantitative"}}},
{"data":{"name":"cells"},"mark":{"type":"rect","width":24,"height":23.5,"xOffset":0,"yOffset":0,"opacity":0.2},"encoding":{"x":{"field":"x","type":"quantitative"},"y":{"field":"y","type":"quantitative"}}},
{"data":{"name":"cells"},"mark":{"type":"rect","width":24,"height":23.5,"xOffset":7.6,"yOffset":0,"opacity":0.167},"encoding":{"x":{"field":"x","type":"quantitative"},"y":{"field":"y","type":"quantitative"}}},
{"data":{"name":"cells"},"mark":{"type":"rect","width":24,"height":23.5,"xOffset":-7.6,"yOffset":7.4,"opacity":0.143},"encoding":{"x":{"field":"x","type":"quantitative"},"y":{"field":"y","type":"quantitative"}}},
{"data":{"name":"cells"},"mark":{"type":"rect","width":24,"height":23.5,"xOffset":0,"yOffset":7.4,"opacity":0.125},"encoding":{"x":{"field":"x","type":"quantitative"},"y":{"field":"y","type":"quantitative"}}},
{"data":{"name":"cells"},"mark":{"type":"rect","width":24,"height":23.5,"xOffset":7.6,"yOffset":7.4,"opacity":0.111},"encoding":{"x":{"field":"x","type":"quantitative"},"y":{"field":"y","type":"quantitative"}}},
{"data":{"values":[{"x":5.77,"y":0.62},{"x":5.82,"y":0.67},{"x":5.87,"y":0.72},{"x":5.92,"y":0.77},{"x":5.97,"y":0.83},{"x":6.02,"y":0.88},{"x":6.07,"y":0.93},{"x":6.12,"y":0.98},{"x":6.17,"y":1.03},{"x":6.22,"y":1.08},{"x":6.27,"y":1.13},{"x":6.32,"y":1.19},{"x":6.37,"y":1.24},{"x":6.42,"y":1.29},{"x":6.47,"y":1.34},{"x":6.52,"y":1.39},{"x":6.57,"y":1.44},{"x":6.62,"y":1.5},{"x":6.67,"y":1.55},{"x":6.72,"y":1.6},{"x":6.77,"y":1.65},{"x":6.82,"y":1.7},{"x":6.87,"y":1.75},{"x":6.92,"y":1.8},{"x":6.97,"y":1.86},{"x":7.02,"y":1.91},{"x":7.07,"y":1.96},{"x":7.12,"y":2.01},{"x":7.17,"y":2.06},{"x":7.22,"y":2.11},{"x":7.27,"y":2.17},{"x":7.32,"y":2.22},{"x":7.37,"y":2.27},{"x":7.42,"y":2.32},{"x":7.47,"y":2.37},{"x":7.52,"y":2.42},{"x":7.57,"y":2.47},{"x":7.62,"y":2.53},{"x":7.67,"y":2.58},{"x":7.72,"y":2.63},{"x":7.77,"y":2.68},{"x":8.1,"y":2.68}]},"mark":{"type":"area","interpolate":"step-after","color":"#f9fb0e"},"encoding":{"x":{"field":"x","type":"quantitative"},"y":{"field":"y","type":"quantitative"},"y2":{"datum":0},"color":{"value":"#f9fb0e"}}},
{"data":{"values":[{"x":0.3,"x2":0.678,"y":0.2,"y2":8.1,"z":0},{"x":0.3,"x2":8.2,"y":0.2,"y2":0.613,"z":0},{"x":0.678,"x2":0.737,"y":5.446,"y2":8.1,"z":0},{"x":0.3,"x2":5.27,"y":7.658,"y2":8.1,"z":0},{"x":5.27,"x2":5.61,"y":7.658,"y2":7.706,"z":-0.34},{"x":5.83,"x2":5.89,"y":7.658,"y2":7.706,"z":-0.34},{"x":5.94,"x2":7.767,"y":7.658,"y2":7.706,"z":-0.34},{"x":5.27,"x2":8.2,"y":7.706,"y2":8.1,"z":0},{"x":5.61,"x2":5.83,"y":7.65,"y2":7.706,"z":0},{"x":5.89,"x2":5.94,"y":7.65,"y2":7.706,"z":0},{"x":7.767,"x2":8.2,"y":0.2,"y2":8.1,"z":0}]},"mark":{"type":"rect"},"encoding":{"x":{"field":"x","type":"quantitative"},"x2":{"field":"x2"},"y":{"field":"y","type":"quantitative"},"y2":{"field":"y2"}}}]},{"width":46,"height":752,"view":{"stroke":null},"data":{"values":[{"z":0},{"z":-0.005},{"z":-0.01},{"z":-0.015},{"z":-0.02},{"z":-0.025},{"z":-0.03},{"z":-0.035},{"z":-0.04},{"z":-0.045},{"z":-0.05},{"z":-0.055},{"z":-0.06},{"z":-0.065},{"z":-0.07},{"z":-0.075},{"z":-0.08},{"z":-0.085},{"z":-0.09},{"z":-0.095},{"z":-0.1},{"z":-0.105},{"z":-0.11},{"z":-0.115},{"z":-0.12},{"z":-0.125},{"z":-0.13},{"z":-0.135},{"z":-0.14},{"z":-0.145},{"z":-0.15},{"z":-0.155},{"z":-0.16},{"z":-0.165},{"z":-0.17},{"z":-0.175},{"z":-0.18},{"z":-0.185},{"z":-0.19},{"z":-0.195},{"z":-0.2},{"z":-0.205},{"z":-0.21},{"z":-0.215},{"z":-0.22},{"z":-0.225},{"z":-0.23},{"z":-0.235},{"z":-0.24},{"z":-0.245},{"z":-0.25},{"z":-0.255},{"z":-0.26},{"z":-0.265},{"z":-0.27},{"z":-0.275},{"z":-0.28},{"z":-0.285},{"z":-0.29},{"z":-0.295},{"z":-0.3},{"z":-0.305},{"z":-0.31},{"z":-0.315},{"z":-0.32},{"z":-0.325},{"z":-0.33},{"z":-0.335},{"z":-0.34},{"z":-0.345},{"z":-0.35},{"z":-0.355},{"z":-0.36},{"z":-0.365},{"z":-0.37}]},"mark":{"type":"rect","height":11,"clip":true},"encoding":{"y":{"field":"z","type":"quantitative","scale":{"domain":[-0.37,0],"nice":false},"axis":{"zindex":1,"orient":"right","values":[0,-0.05,-0.1,-0.15,-0.2,-0.25,-0.3,-0.35],"title":"z (μm)","titleAnchor":"end","titleAngle":-90,"titleBaseline":"alphabetic","titleX":66,"titleY":2,"format":".2~f","labelExpr":"replace(datum.label,'-','−')","tickColor":"#444","tickWidth":1.2,"tickSize":-25,"domainColor":"#888","domainWidth":1.5,"labelPadding":27,"labelOverlap":false,"labelFlush":false}},"color":{"field":"z","type":"quantitative","legend":null,"scale":{"domain":[-0.37,-0.324,-0.2775,-0.231,-0.185,-0.139,-0.0925,-0.046,0],"range":["#352a87","#0f5cdd","#1481d6","#06a4ca","#2eb7a4","#87bf77","#d1bb59","#fec832","#f9fb0e"]}}}}]}
